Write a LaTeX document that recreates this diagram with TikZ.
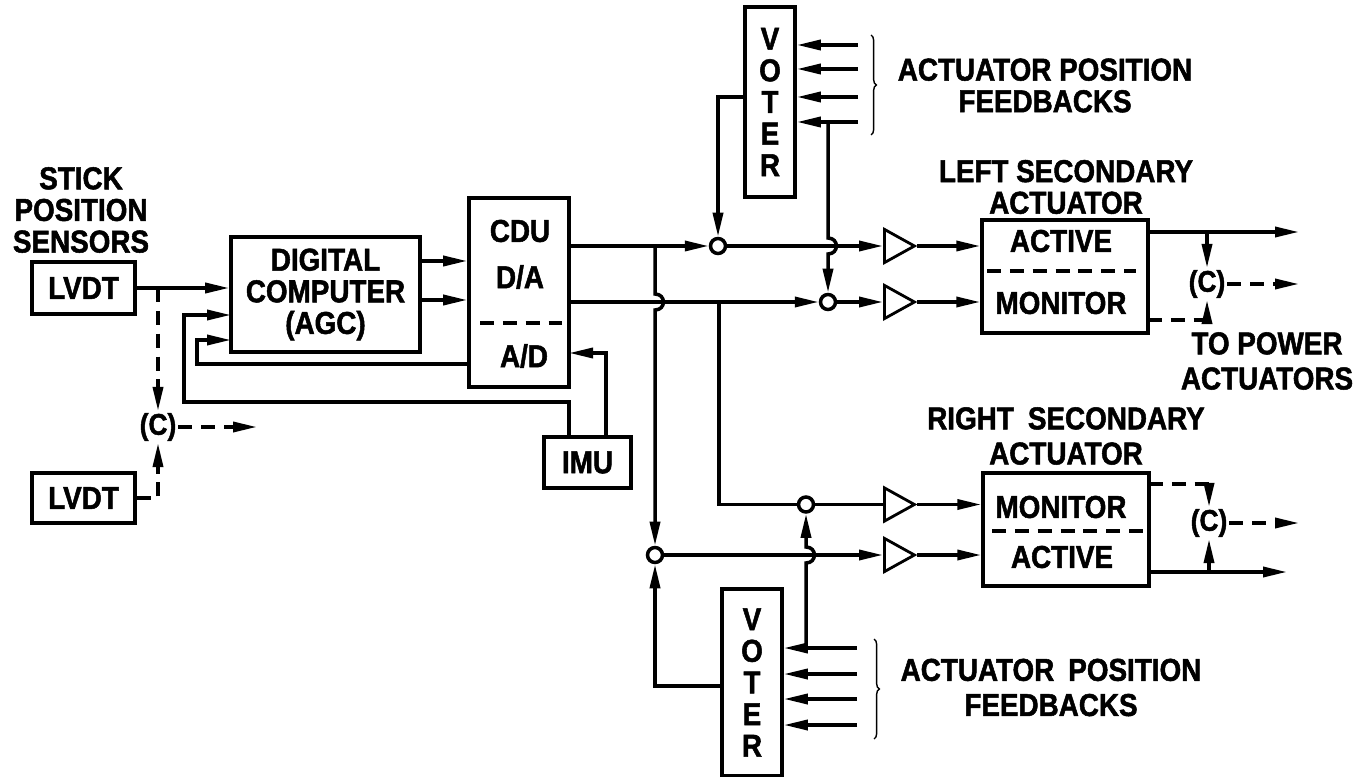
\documentclass[tikz,border=0pt]{standalone}
\usepackage{fontspec}
\setmainfont[FakeStretch=0.88,BoldFeatures={FakeBold=1.6}]{Liberation Sans}
\usetikzlibrary{arrows.meta,shapes.geometric,decorations.pathreplacing}
\tikzset{
	unit/.style={draw, line width=2pt, inner sep=0pt, align=center},
	lab/.style={font=\bfseries\fontsize{18}{18}\selectfont, inner sep=0pt, align=center},
	wire/.style={line width=2pt},
	feed/.style={wire, -{Triangle[length=.48cm,width=.2cm]}},
	altfeed/.style={feed, dash pattern=on 8pt off 5pt},
	altwire/.style={wire, dash pattern=on 8pt off 5pt},
	mix/.style={draw, line width=2pt, circle, minimum size=.3cm, inner sep=0pt, fill=white},
	amp/.style={draw, line width=1.6pt, isosceles triangle, isosceles triangle apex angle=58, minimum height=.6cm, inner sep=0pt, anchor=west},
	cmp/.style={font=\bfseries\fontsize{17}{18}\selectfont, inner sep=1pt},
	group/.style={line width=.8pt, decorate, decoration={brace, amplitude=3pt}},
	hop/.style={out=0, in=0, looseness=1.8}
}
\begin{document}
\begin{tikzpicture}
	\useasboundingbox (0,0) rectangle (27.22,15.52);

	\node[unit, lab, minimum width=2.06cm, minimum height=1.04cm] (lvdta) at (1.67,9.76) {LVDT};
	\node[unit, lab, minimum width=2.06cm, minimum height=1cm] (lvdtb) at (1.67,5.56) {LVDT};
	\node[lab] (sticklab) at (1.62,11.32) {STICK\\POSITION\\SENSORS};
	\node[unit, lab, minimum width=3.78cm, minimum height=2.3cm] (agc) at (6.51,9.63) {DIGITAL\\COMPUTER\\(AGC)};
	\node[unit, minimum width=2cm, minimum height=3.78cm] (cdu) at (10.38,9.67) {};
	\node[lab] (cdulab) at (10.4,10.9) {CDU};
	\node[lab] (dalab) at (10.4,9.98) {D/A};
	\node[lab] (adlab) at (10.48,8.4) {A/D};
	\draw[altwire] (9.6,9.06) -- (11.24,9.06);
	\node[unit, lab, minimum width=1.74cm, minimum height=1.02cm] (imu) at (11.75,6.27) {IMU};

	\node[unit, lab, minimum width=1cm, minimum height=3.8cm] (votera) at (15.4,13.48) {V\\O\\T\\E\\R};
	\node[unit, lab, minimum width=1.2cm, minimum height=3.74cm] (voterb) at (15.04,1.87) {V\\O\\T\\E\\R};
	\node[lab] (fblaba) at (20.9,13.81) {ACTUATOR POSITION\\FEEDBACKS};
	\node[lab] (fblabb) at (21.02,1.77) {ACTUATOR\hspace{.2em} POSITION\\[2pt]FEEDBACKS};

	\node[mix] (mixa) at (14.36,10.6) {};
	\node[mix] (mixb) at (16.56,9.48) {};
	\node[mix] (mixc) at (13.1,4.42) {};
	\node[mix] (mixd) at (16.12,5.43) {};
	\node[amp] (ampa) at (17.66,10.6) {};
	\node[amp] (ampb) at (17.66,9.48) {};
	\node[amp] (ampc) at (17.66,5.43) {};
	\node[amp] (ampd) at (17.66,4.42) {};

	\node[unit, minimum width=3.32cm, minimum height=2.26cm] (acta) at (21.3,9.99) {};
	\node[lab] (activea) at (21.22,10.7) {ACTIVE};
	\node[lab] (monitora) at (21.22,9.46) {MONITOR};
	\draw[altwire] (19.74,10.1) -- (22.72,10.1);
	\node[lab] (leftlab) at (21.32,11.78) {LEFT SECONDARY\\ACTUATOR};
	\node[unit, minimum width=3.32cm, minimum height=2.26cm] (actb) at (21.32,4.93) {};
	\node[lab] (monitorb) at (21.22,5.38) {MONITOR};
	\node[lab] (activeb) at (21.24,4.38) {ACTIVE};
	\draw[altwire] (19.84,4.9) -- (22.9,4.9);
	\node[lab] (rightlab) at (21.32,6.8) {RIGHT\hspace{.2em} SECONDARY\\[2pt]ACTUATOR};
	\node[lab] (powerlab) at (25.34,8.3) {TO POWER\\[2pt]ACTUATORS};

	\node[cmp] (cmpa) at (24.14,9.84) {(C)};
	\node[cmp] (cmpb) at (24.18,5.06) {(C)};
	\node[cmp] (cmpc) at (3.16,6.98) {(C)};

	\coordinate (fba) at (17.16,14.62);
	\coordinate (fbb) at (17.16,14.14);
	\coordinate (fbc) at (17.16,13.58);
	\coordinate (fbd) at (17.16,13.08);
	\coordinate (fbe) at (17.14,2.56);
	\coordinate (fbf) at (17.14,2.04);
	\coordinate (fbg) at (17.14,1.54);
	\coordinate (fbh) at (17.14,1.02);
	\coordinate (grouptop) at (17.42,14.82);
	\coordinate (groupbot) at (17.42,12.82);
	\coordinate (grouptopb) at (17.48,2.74);
	\coordinate (groupbotb) at (17.48,.74);
	\coordinate (hopa) at (13.1,9.64);
	\coordinate (hopb) at (13.1,9.32);
	\coordinate (hopc) at (16.56,10.76);
	\coordinate (hopd) at (16.56,10.44);
	\coordinate (hope) at (16.12,4.26);
	\coordinate (hopf) at (16.12,4.58);
	\coordinate (tapb) at (14.38,9.48);
	\coordinate (adc) at (3.94,8.24);
	\coordinate (agcin) at (4.62,8.72);
	\coordinate (imuback) at (3.68,7.48);
	\coordinate (agcimu) at (4.62,9.22);
	\coordinate (imua) at (11.38,6.78);
	\coordinate (imub) at (12.12,6.78);
	\coordinate (adin) at (11.38,8.46);
	\coordinate (outa) at (25.98,10.88);
	\coordinate (outb) at (25.98,9.84);
	\coordinate (outc) at (25.98,5.06);
	\coordinate (outd) at (25.74,4.08);
	\coordinate (oute) at (5.14,6.98);
	\coordinate (mona) at (22.96,9.12);
	\coordinate (monb) at (22.98,5.84);
	\coordinate (voutb) at (14.44,1.8);

	\draw[feed] (lvdta.east) -- (lvdta.east -| agc.west);
	\draw[altfeed] (cmpc |- lvdta) -- (cmpc.north);
	\draw[altfeed] (lvdtb.east) -| (cmpc.south);
	\draw[altfeed] (cmpc.east) -- (oute);
	\draw[feed] ([yshift=.67cm]agc.east) -- ([yshift=.67cm]agc.east -| cdu.west);
	\draw[feed] ([yshift=-.11cm]agc.east) -- ([yshift=-.11cm]agc.east -| cdu.west);
	\draw[feed] (cdu.west |- adc) -- (adc) |- (agcin);
	\draw[feed] (imua) |- (imuback) |- (agcimu);
	\draw[feed] (imub) |- (adin);

	\draw[feed] (cdu.east |- mixa) -- (mixa);
	\draw[feed] (cdu.east |- mixb) -- (mixb);
	\draw[feed] (mixc |- mixa) -- (hopa) to[hop] (hopb) -- (mixc.north);
	\draw[wire] (tapb) |- (mixd);

	\foreach \fb in {fba,fbb,fbc,fbd} \draw[feed] (\fb) -- (\fb -| votera.east);
	\foreach \fb in {fbe,fbf,fbg,fbh} \draw[feed] (\fb) -- (\fb -| voterb.east);
	\draw[group] (grouptop) -- (groupbot);
	\draw[group] (grouptopb) -- (groupbotb);
	\draw[feed] (votera.west |- fbc) -| (mixa.north);
	\draw[feed] (fbd -| mixb) -- (hopc) to[hop] (hopd) -- (mixb.north);
	\draw[feed] (voutb) -| (mixc.south);
	\draw[feed] (fbe -| mixd) -- (hope) to[hop] (hopf) -- (mixd.south);

	\draw[feed] (mixa) -- (ampa);
	\draw[feed] (mixb) -- (ampb);
	\draw[wire] (mixd) -- (ampc);
	\draw[feed] (mixc) -- (ampd);
	\draw[feed] (ampa.east) -- (ampa.east -| acta.west);
	\draw[feed] (ampb.east) -- (ampb.east -| acta.west);
	\draw[feed] (ampc.east) -- (ampc.east -| actb.west);
	\draw[feed] (ampd.east) -- (ampd.east -| actb.west);

	\draw[feed] (acta.east |- outa) -- (outa);
	\draw[feed] (cmpa |- outa) -- (cmpa.north);
	\draw[altfeed] (mona) -| (cmpa.south);
	\draw[altfeed] (cmpa.east) -- (outb);
	\draw[altfeed] (monb) -| (cmpb.north);
	\draw[altfeed] (cmpb.east) -- (outc);
	\draw[feed] (actb.east |- outd) -- (outd);
	\draw[feed] (cmpb |- outd) -- (cmpb.south);
\end{tikzpicture}
\end{document}
